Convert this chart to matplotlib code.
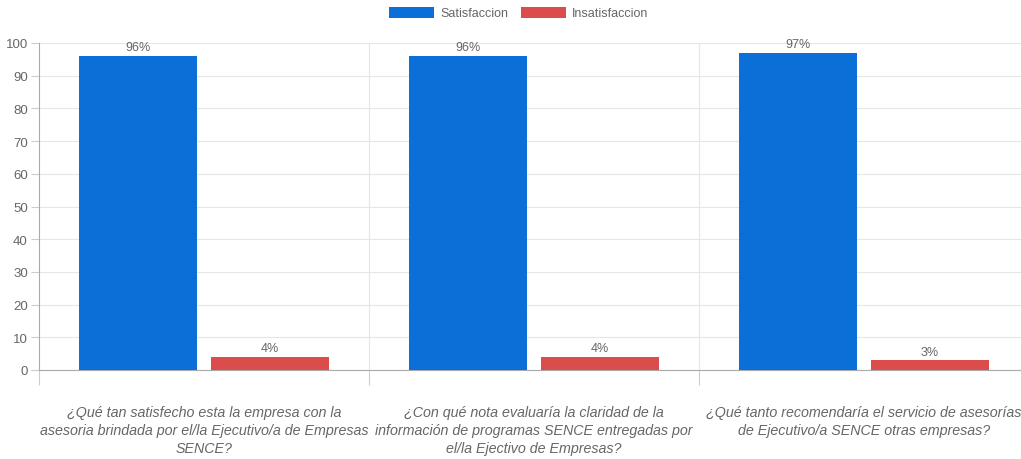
import matplotlib
matplotlib.use("Agg")
from matplotlib import pyplot as plt
import numpy as np

# data
questions = [
    "¿Qué tan satisfecho esta la empresa con la\nasesoria brindada por el/la Ejecutivo/a de Empresas\nSENCE?",
    "¿Con qué nota evaluaría la claridad de la\ninformación de programas SENCE entregadas por\nel/la Ejectivo de Empresas?",
    "¿Qué tanto recomendaría el servicio de asesorías\nde Ejecutivo/a SENCE otras empresas?",
]
satisfaccion = [96, 96, 97]
insatisfaccion = [4, 4, 3]
series_names = ["Satisfaccion", "Insatisfaccion"]

blue = "#0a6fd6"
red = "#db4d4a"
grey_txt = "#666666"

plt.rcParams["font.family"] = ["Liberation Sans", "DejaVu Sans"]

fig = plt.figure(figsize=(10.21, 4.6), dpi=100)
ax = fig.add_axes([39/1021, 89/460, 990/1021, 327/460])

x = np.arange(len(questions))
w = 0.355
off = 0.2
b1 = ax.bar(x - off, satisfaccion, w, color=blue, label=series_names[0], zorder=3)
b2 = ax.bar(x + off, insatisfaccion, w, color=red, label=series_names[1], zorder=3)

for bars in (b1, b2):
    for r in bars:
        ax.text(r.get_x() + r.get_width()/2, r.get_height() + 0.8, "%d%%" % r.get_height(),
                ha="center", va="bottom", fontsize=9, color=grey_txt)

ax.set_xlim(-0.5, 2.5)
ax.set_ylim(0, 100)
ax.set_yticks(np.arange(0, 101, 10))
ax.tick_params(axis="y", colors="#cccccc", labelcolor=grey_txt, labelsize=9.5, length=6, pad=2)

# category labels + boundary ticks
ax.set_xticks([-0.5, 0.5, 1.5], labels=["", "", ""])
ax.tick_params(axis="x", colors="#cccccc", length=11)
for i, q in enumerate(questions):
    ax.text(i, -10.8, q, ha="center", va="top", fontsize=10.3, style="italic",
            color=grey_txt, linespacing=1.37)

ax.grid(axis="y", color="#e6e6e6", lw=0.8, zorder=0)
for b in [0.5, 1.5]:
    ax.axvline(b, color="#e6e6e6", lw=0.8, zorder=0)
for s in ["top", "right"]:
    ax.spines[s].set_visible(False)
ax.spines["left"].set_color("#aaaaaa")
ax.spines["bottom"].set_color("#aaaaaa")

fig.legend(loc="upper center", bbox_to_anchor=(0.508, 1.008), ncol=2, frameon=False,
           handlelength=3.6, handleheight=1.0, columnspacing=1.0, handletextpad=0.5,
           fontsize=9, labelcolor=grey_txt)

fig.savefig("out.png", dpi=100)
